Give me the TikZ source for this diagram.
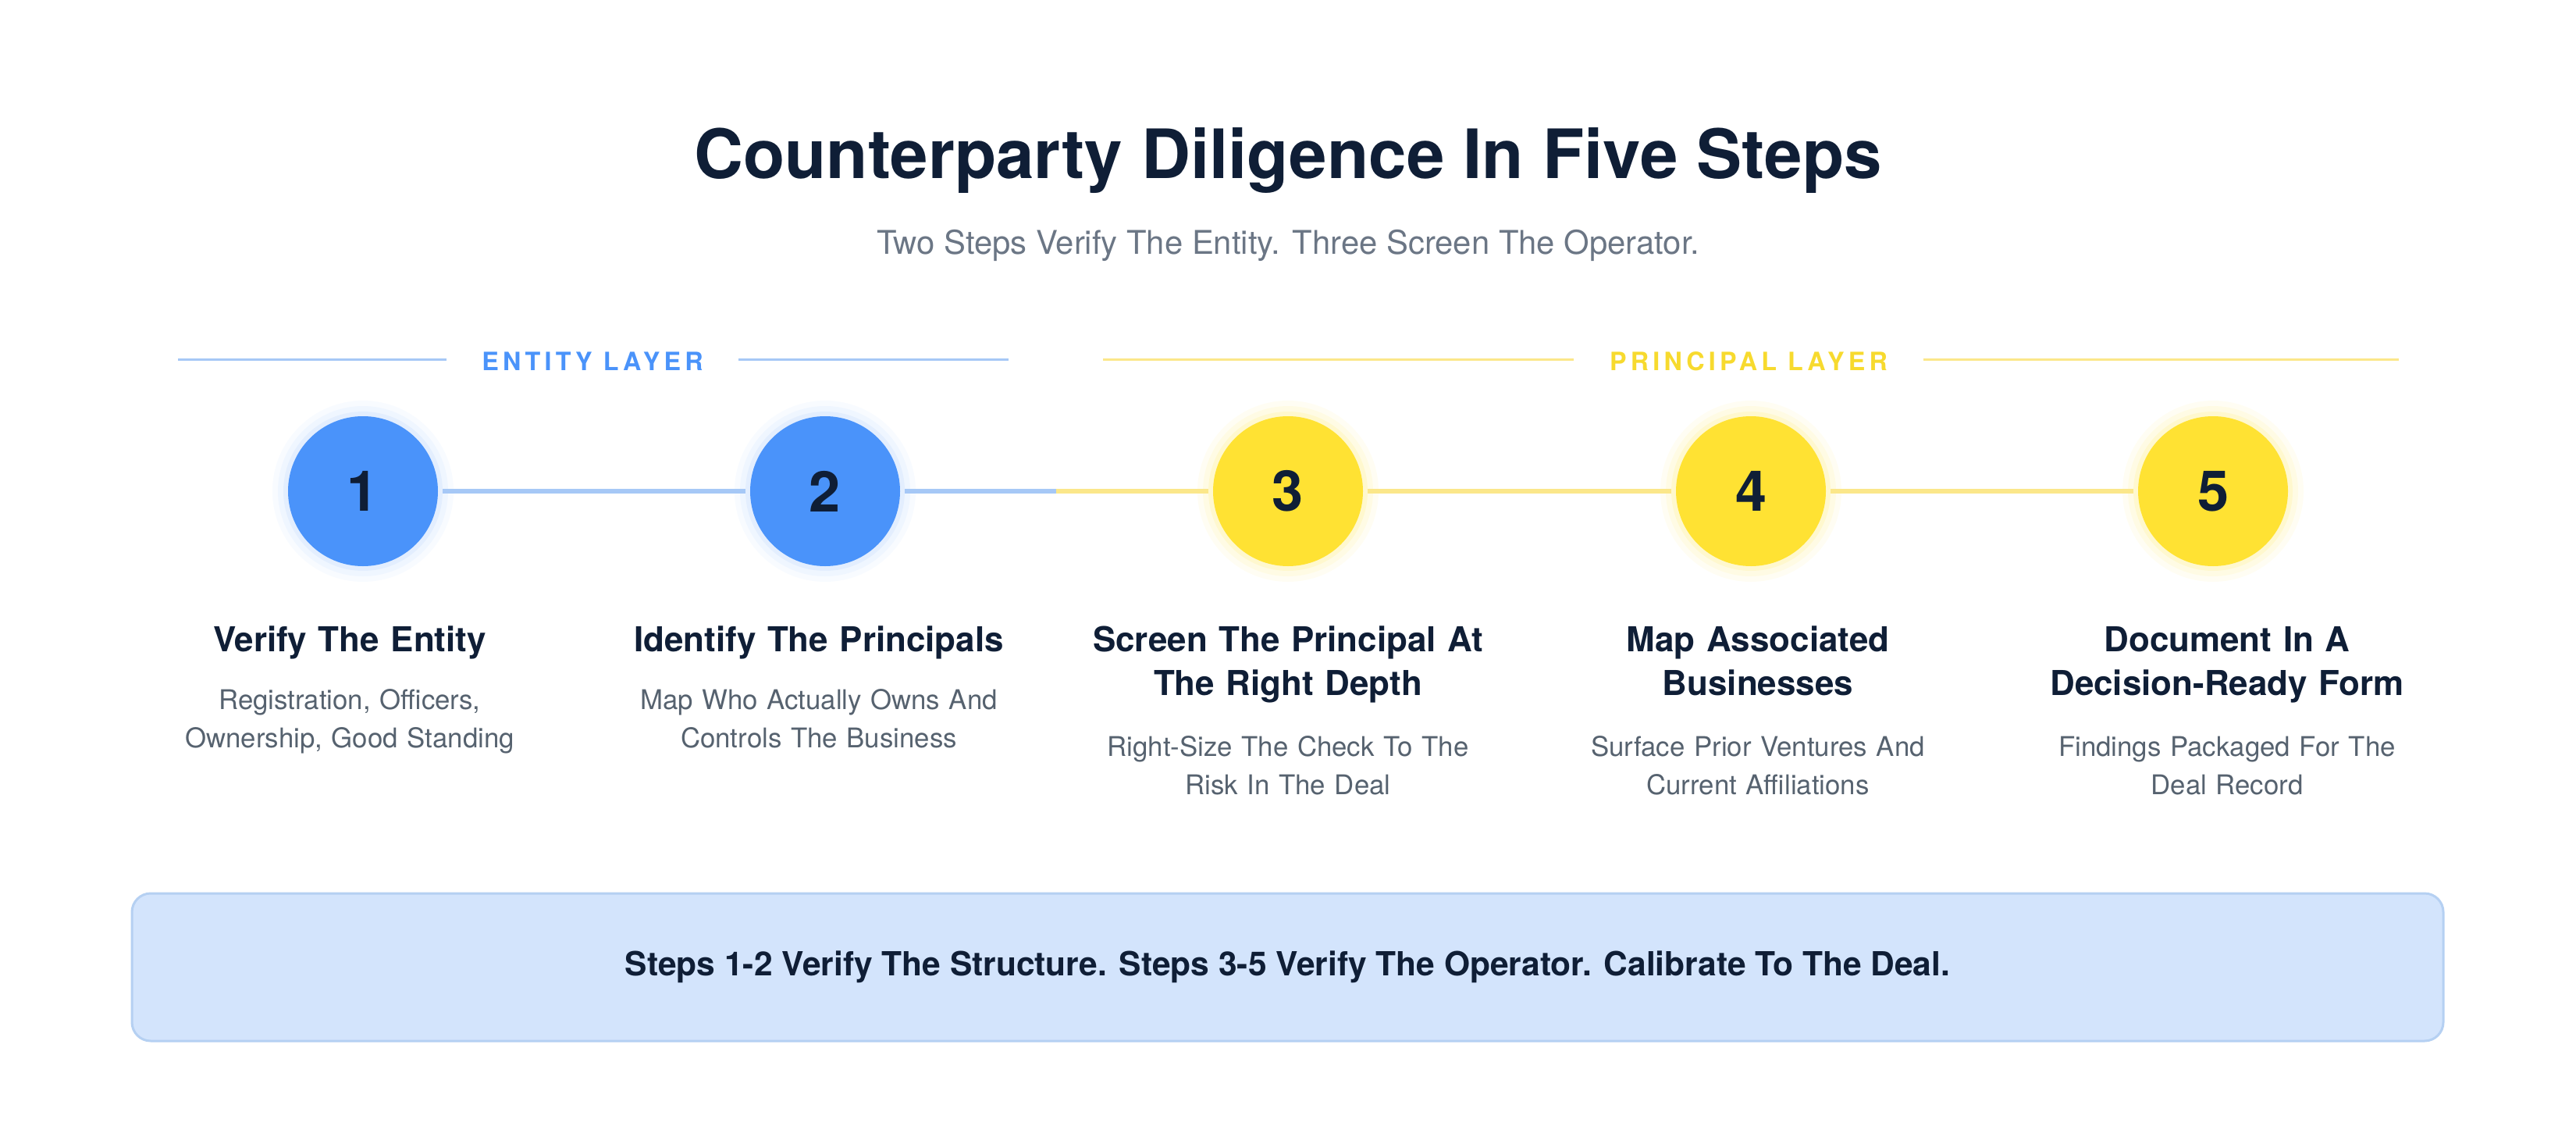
\documentclass[tikz,border=0pt]{standalone}
\usepackage{fontspec}
\setmainfont{TeX Gyre Heros}

\definecolor{navy}{HTML}{0F1E36}
\definecolor{slate}{HTML}{6B7685}
\definecolor{graytext}{HTML}{56626F}
\definecolor{stepblue}{HTML}{4A93FA}
\definecolor{stepyellow}{HTML}{FFE233}
\definecolor{labelyellow}{HTML}{F7DA2E}
\definecolor{lineblue}{HTML}{A6C8F6}
\definecolor{lineyellow}{HTML}{FBE78A}
\definecolor{boxfill}{HTML}{D3E4FC}
\definecolor{boxline}{HTML}{B5D0F2}

\tikzset{
  stepdot/.style={circle, minimum size=1.92cm, inner sep=0pt, text=navy,
    font=\bfseries\fontsize{20.5}{24}\selectfont},
  bluedot/.style={stepdot, fill=stepblue,
    preaction={draw=stepblue, draw opacity=0.04, line width=0.4cm},
    preaction={draw=stepblue, draw opacity=0.05, line width=0.26cm},
    draw=stepblue, draw opacity=0.08, line width=0.12cm},
  yellowdot/.style={stepdot, fill=stepyellow,
    preaction={draw=stepyellow, draw opacity=0.06, line width=0.4cm},
    preaction={draw=stepyellow, draw opacity=0.08, line width=0.26cm},
    draw=stepyellow, draw opacity=0.12, line width=0.12cm},
  layerlabel/.style={inner xsep=0.45cm, inner ysep=0pt,
    font=\bfseries\fontsize{9.2}{11}\selectfont\addfontfeature{LetterSpace=16}},
  headrule/.style={line width=0.03cm},
  trackline/.style={line width=0.06cm},
  steptitle/.style={anchor=base, text width=5.6cm, align=center, inner sep=0pt,
    text=navy, font=\bfseries\fontsize{12.5}{16.2}\selectfont},
  stepnote/.style={anchor=base, text width=5.6cm, align=center, inner sep=0pt,
    text=graytext, font=\fontsize{9.9}{14.2}\selectfont},
  footbox/.style={rectangle, rounded corners=0.24cm, minimum width=29.61cm,
    minimum height=1.89cm, fill=boxfill, draw=boxline, line width=0.03cm,
    text=navy, font=\bfseries\fontsize{12.1}{14}\selectfont}
}

\begin{document}
\begin{tikzpicture}

\useasboundingbox (0,0) rectangle (33,-14.55);

% Heading
\node[anchor=base, text=navy, font=\bfseries\fontsize{24.8}{30}\selectfont] (title) at (16.5,-2.28) {Counterparty Diligence In Five Steps};
\node[anchor=base, text=slate, font=\fontsize{11.9}{14}\selectfont] (subtitle) at (16.5,-3.26) {Two Steps Verify The Entity. Three Screen The Operator.};

% Layer headings
\node[layerlabel, text=stepblue] (entity) at (7.59,-4.63) {ENTITY LAYER};
\node[layerlabel, text=labelyellow] (principal) at (22.40,-4.63) {PRINCIPAL LAYER};
\coordinate (eL) at (2.28,-4.60);
\coordinate (eR) at (12.92,-4.60);
\coordinate (pL) at (14.13,-4.60);
\coordinate (pR) at (30.73,-4.60);
\draw[headrule, lineblue] (eL) -- (entity.west |- eL);
\draw[headrule, lineblue] (entity.east |- eR) -- (eR);
\draw[headrule, lineyellow] (pL) -- (principal.west |- pL);
\draw[headrule, lineyellow] (principal.east |- pR) -- (pR);

% Step circles
\node[bluedot] (c1) at (4.65,-6.29) {1};
\node[bluedot] (c2) at (10.57,-6.29) {2};
\node[yellowdot] (c3) at (16.50,-6.29) {3};
\node[yellowdot] (c4) at (22.43,-6.29) {4};
\node[yellowdot] (c5) at (28.35,-6.29) {5};

% Track between the circles
\coordinate (split) at (13.53,-6.29);
\draw[trackline, lineblue] (c1) -- (c2);
\draw[trackline, lineblue] (c2) -- (split);
\draw[trackline, lineyellow] (split) -- (c3);
\draw[trackline, lineyellow] (c3) -- (c4);
\draw[trackline, lineyellow] (c4) -- (c5);

% Step titles
\node[steptitle] (t1) at (4.48,-8.34) {Verify The Entity};
\node[steptitle] (t2) at (10.49,-8.34) {Identify The Principals};
\node[steptitle] (t3) at (16.50,-8.34) {Screen The Principal At\\The Right Depth};
\node[steptitle] (t4) at (22.52,-8.34) {Map Associated\\Businesses};
\node[steptitle] (t5) at (28.53,-8.34) {Document In A\\Decision-Ready Form};

% Step notes
\node[stepnote] (n1) at (4.48,-9.08) {Registration, Officers,\\Ownership, Good Standing};
\node[stepnote] (n2) at (10.49,-9.08) {Map Who Actually Owns And\\Controls The Business};
\node[stepnote] (n3) at (16.50,-9.68) {Right-Size The Check To The\\Risk In The Deal};
\node[stepnote] (n4) at (22.52,-9.68) {Surface Prior Ventures And\\Current Affiliations};
\node[stepnote] (n5) at (28.53,-9.68) {Findings Packaged For The\\Deal Record};

% Summary box
\node[footbox] (summary) at (16.495,-12.385) {Steps 1-2 Verify The Structure. Steps 3-5 Verify The Operator. Calibrate To The Deal.};

\end{tikzpicture}
\end{document}
